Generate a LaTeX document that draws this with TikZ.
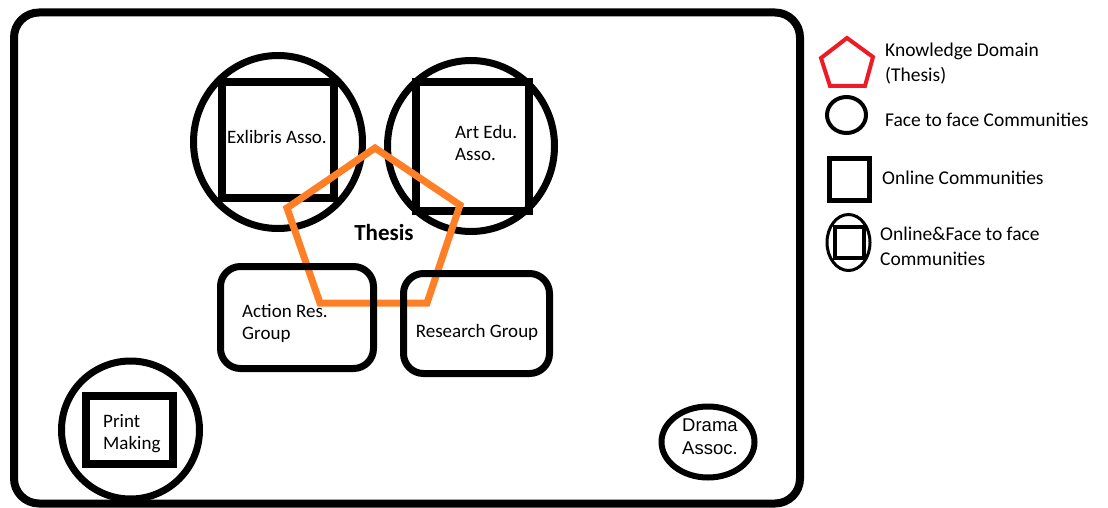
\documentclass[tikz,border=0pt]{standalone}
\usepackage{fontspec}
\setmainfont{Carlito}
\newfontfamily\dramafont{Liberation Sans}
\usetikzlibrary{shapes.geometric}
\definecolor{paintorange}{RGB}{255,127,39}
\definecolor{paintred}{RGB}{237,28,36}
\begin{document}
\begin{tikzpicture}[x=1pt,y=-1pt,
  ftf/.style={draw,ellipse,inner sep=0pt},
  onl/.style={draw,rectangle,inner sep=0pt},
  grp/.style={draw,rectangle,rounded corners=20pt,line width=7pt,inner sep=0pt},
  lbl/.style={font=\fontsize{19}{22}\selectfont,align=left,inner sep=0pt},
  leg/.style={font=\fontsize{19.5}{25}\selectfont,align=left,anchor=west,inner sep=0pt}]
\useasboundingbox (0,0) rectangle (1108,508);
% outer frame
\node[draw,rectangle,rounded corners=25pt,line width=8pt,minimum width=786pt,minimum height=491pt,inner sep=0pt] (frame) at (407,258) {};
% Exlibris
\node[ftf,line width=7pt,minimum width=169pt,minimum height=173pt] (exc) at (278,142) {};
\node[onl,line width=8pt,minimum width=112pt,minimum height=116pt] (exs) at (278,140) {};
% Art Edu
\node[ftf,line width=7pt,minimum width=167pt,minimum height=171pt] (artc) at (471,146) {};
\node[onl,line width=8pt,minimum width=113pt,minimum height=129pt] (arts) at (472.5,146.5) {};
% Thesis pentagon
\draw[paintorange,line width=7pt,line join=miter] (375,148) -- (460,205) -- (427,303) -- (320,303) -- (287,208) -- cycle;
% groups
\node[grp,minimum width=153pt,minimum height=102pt] (act) at (297,317.5) {};
\node[grp,minimum width=146pt,minimum height=100pt] (res) at (476.5,323.5) {};
% Print making
\node[ftf,line width=7pt,minimum width=138pt,minimum height=138pt] (prc) at (130.5,430) {};
\node[onl,line width=8pt,minimum width=87pt,minimum height=68pt] (prs) at (129.5,430) {};
% Drama
\node[ftf,line width=6pt,minimum width=93pt,minimum height=71pt] (drc) at (708,442) {};
% labels
\node[lbl] (exl) at (277,137) {Exlibris Asso.};
\node[lbl,anchor=west] (artl) at (455,143) {Art Edu.\\Asso.};
\node[font=\fontsize{23}{26}\selectfont\bfseries,inner sep=0pt] (thl) at (384,233) {Thesis};
\node[lbl,anchor=west] (actl) at (242,323) {Action Res.\\Group};
\node[lbl] (resl) at (477,332) {Research Group};
\node[lbl,anchor=west] (prl) at (103,434) {Print\\Making};
\node[lbl,anchor=west,font=\dramafont\fontsize{18.5}{23}\selectfont] (drl) at (682,437) {Drama\\Assoc.};
% legend
\draw[paintred,line width=4pt,line join=miter] (847,38) -- (873,57) -- (865,86) -- (830,86) -- (821,58) -- cycle;
\node[leg] (l1) at (885,64) {Knowledge Domain\\(Thesis)};
\node[ftf,line width=4pt,minimum width=39pt,minimum height=36pt] (lc) at (846.5,115) {};
\node[leg] (l2) at (885,120) {Face to face Communities};
\node[onl,line width=5pt,minimum width=40pt,minimum height=42pt] (ls) at (849.5,179.5) {};
\node[leg] (l3) at (882,178) {Online Communities};
\node[ftf,line width=3pt,minimum width=43pt,minimum height=56pt] (le) at (848.5,242.5) {};
\node[onl,line width=4pt,minimum width=29pt,minimum height=31pt] (les) at (849.5,242) {};
\node[leg] (l4) at (880,246) {Online\&Face to face\\Communities};
\end{tikzpicture}
\end{document}
